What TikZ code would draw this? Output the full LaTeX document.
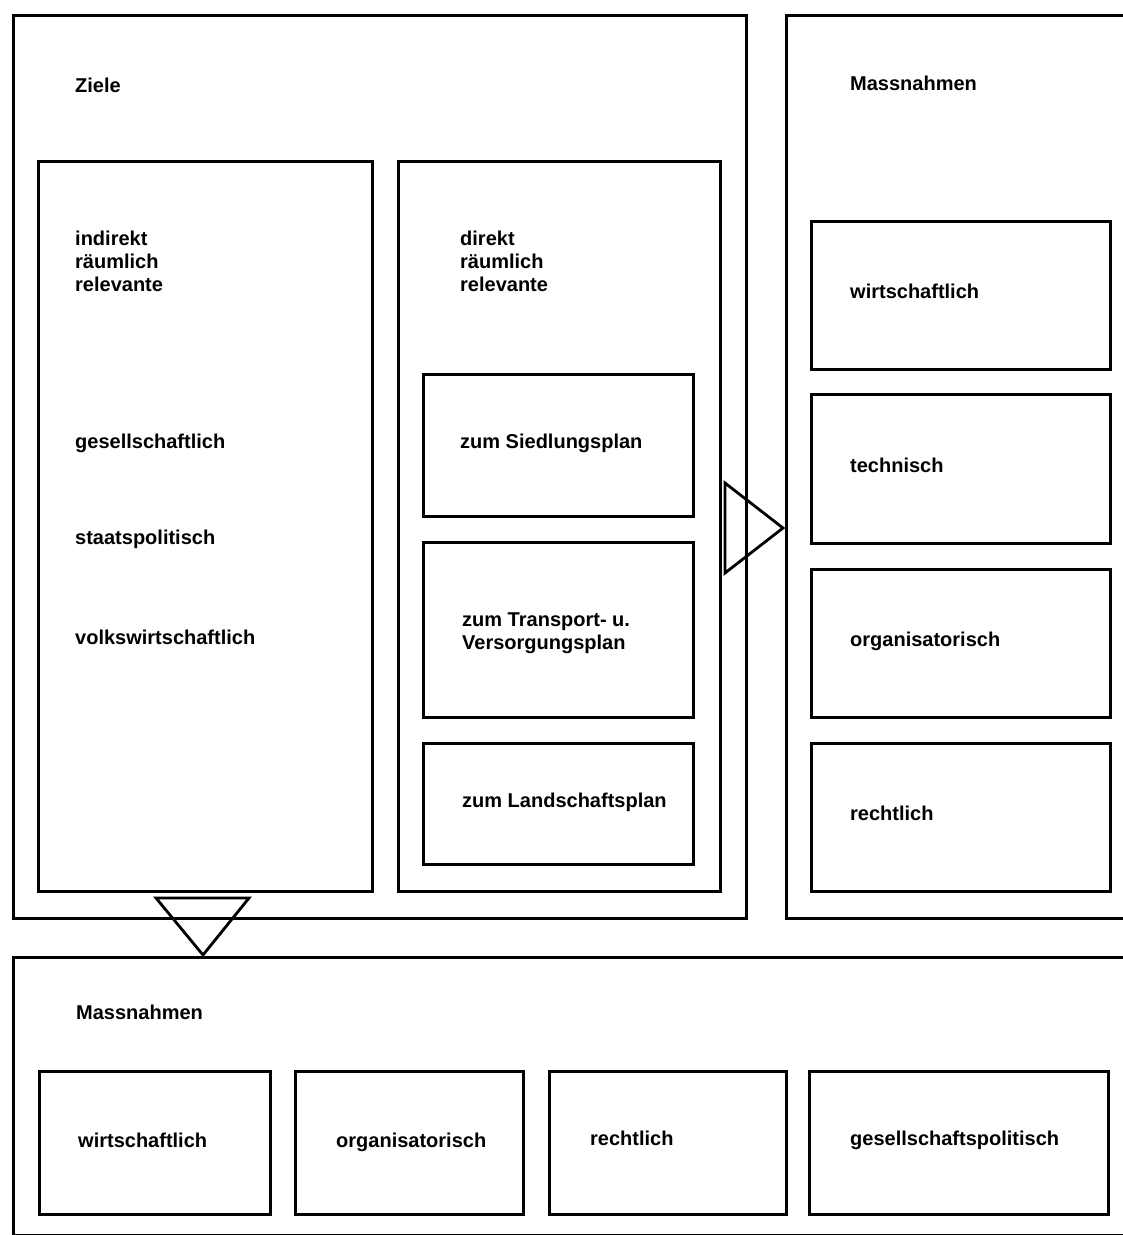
\documentclass[tikz,border=0pt]{standalone}
\usepackage{fontspec}
\setmainfont{Liberation Sans}
\tikzset{
  box/.style={draw, line width=2.8pt, rectangle, inner sep=0pt, anchor=north west},
  lbl/.style={anchor=base west, inner sep=0pt, font=\fontsize{20}{23}\selectfont\bfseries, align=left},
  tri/.style={draw, line width=2.8pt, line join=miter}
}
\newcommand{\bx}[5]{\node[box, minimum width=#4-#2, minimum height=#5-#3] (#1) at (#2,#3) {};}
\begin{document}
\begin{tikzpicture}[x=1pt,y=-1pt]
\useasboundingbox (0,0) rectangle (1123,1235);
\clip (0,0) rectangle (1123,1235);
% outer boxes
\bx{ziele}{12}{14}{745}{917}
\bx{massR}{785}{14}{1160}{917}
\bx{massB}{12}{956}{1160}{1234}
% inner left/middle
\bx{indir}{37}{160}{371}{890}
\bx{dir}{397}{160}{719}{890}
\bx{sied}{422}{373}{692}{515}
\bx{trans}{422}{541}{692}{716}
\bx{land}{422}{742}{692}{863}
% right sub boxes
\bx{rw}{810}{220}{1109}{368}
\bx{rt}{810}{393}{1109}{542}
\bx{ro}{810}{568}{1109}{716}
\bx{rr}{810}{742}{1109}{890}
% bottom sub boxes
\bx{bw}{38}{1070}{269}{1213}
\bx{bo}{294}{1070}{522}{1213}
\bx{br}{548}{1070}{785}{1213}
\bx{bg}{808}{1070}{1107}{1213}
% triangles
\coordinate (tr1) at (725,483);
\coordinate (tr2) at (725,573);
\coordinate (tr3) at (783,528);
\draw[tri] (tr1) -- (tr3) -- (tr2) -- cycle;
\coordinate (td1) at (156,898);
\coordinate (td2) at (249,898);
\coordinate (td3) at (203,955);
\draw[tri] (td1) -- (td2) -- (td3) -- cycle;
% labels
\node[lbl] (tZiele) at (75,92) {Ziele};
\node[lbl] (tMassR) at (850,90) {Massnahmen};
\node[lbl] (tIndir) at (75,291) {indirekt\\räumlich\\relevante};
\node[lbl] (tGes) at (75,448) {gesellschaftlich};
\node[lbl] (tStaat) at (75,544) {staatspolitisch};
\node[lbl] (tVolk) at (75,644) {volkswirtschaftlich};
\node[lbl] (tDir) at (460,291) {direkt\\räumlich\\relevante};
\node[lbl] (tSied) at (460,448) {zum Siedlungsplan};
\node[lbl] (tTrans) at (462,649) {zum Transport- u.\\Versorgungsplan};
\node[lbl] (tLand) at (462,807) {zum Landschaftsplan};
\node[lbl] (tRw) at (850,298) {wirtschaftlich};
\node[lbl] (tRt) at (850,472) {technisch};
\node[lbl] (tRo) at (850,646) {organisatorisch};
\node[lbl] (tRr) at (850,820) {rechtlich};
\node[lbl] (tMassB) at (76,1019) {Massnahmen};
\node[lbl] (tBw) at (78,1147) {wirtschaftlich};
\node[lbl] (tBo) at (336,1147) {organisatorisch};
\node[lbl] (tBr) at (590,1145) {rechtlich};
\node[lbl] (tBg) at (850,1145) {gesellschaftspolitisch};
\end{tikzpicture}
\end{document}
